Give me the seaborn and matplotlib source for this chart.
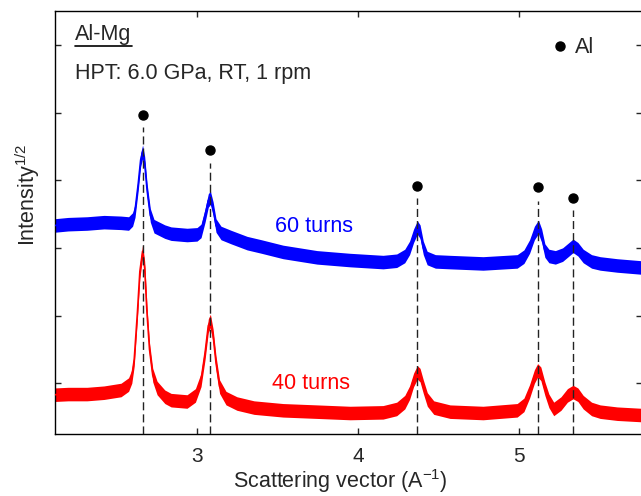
import numpy as np
import pandas as pd
import seaborn as sns
import matplotlib.pyplot as plt

# values (sqrt intensity, arbitrary units)
q_60 = [2.112, 2.20, 2.317, 2.422, 2.528, 2.575, 2.600, 2.615, 2.635, 2.650,
        2.662, 2.675, 2.690, 2.710, 2.733, 2.80, 2.839, 2.938, 3.000, 3.025,
        3.050, 3.070, 3.083, 3.100, 3.118, 3.149, 3.211, 3.311, 3.400, 3.534,
        3.745, 3.950, 4.155, 4.240, 4.290, 4.320, 4.345, 4.368, 4.385, 4.405,
        4.429, 4.480, 4.571, 4.776, 4.988, 5.030, 5.065, 5.095, 5.120, 5.140,
        5.160, 5.185, 5.225, 5.270, 5.305, 5.335, 5.365, 5.398, 5.450, 5.503,
        5.609, 5.760]
i_60 = [2.33, 2.35, 2.36, 2.38, 2.37, 2.36, 2.42, 2.55, 2.95, 3.30,
        3.42, 3.25, 2.85, 2.48, 2.32, 2.24, 2.21, 2.19, 2.20, 2.25,
        2.48, 2.70, 2.74, 2.58, 2.33, 2.22, 2.16, 2.07, 2.02, 1.94,
        1.86, 1.82, 1.79, 1.81, 1.88, 2.00, 2.18, 2.30, 2.24, 2.00,
        1.85, 1.80, 1.79, 1.77, 1.80, 1.87, 2.02, 2.22, 2.31, 2.18,
        1.96, 1.88, 1.86, 1.90, 1.97, 2.03, 1.98, 1.88, 1.80, 1.77,
        1.74, 1.71]

q_40 = [2.112, 2.20, 2.317, 2.422, 2.528, 2.575, 2.595, 2.610, 2.630, 2.645,
        2.662, 2.675, 2.689, 2.705, 2.725, 2.752, 2.80, 2.839, 2.938, 2.990,
        3.025, 3.050, 3.070, 3.083, 3.100, 3.118, 3.140, 3.180, 3.248, 3.354,
        3.534, 3.745, 3.950, 4.155, 4.240, 4.290, 4.320, 4.345, 4.368, 4.385,
        4.405, 4.430, 4.470, 4.571, 4.776, 4.988, 5.030, 5.065, 5.095, 5.115,
        5.135, 5.160, 5.185, 5.215, 5.260, 5.300, 5.335, 5.365, 5.398, 5.450,
        5.503, 5.609, 5.760]
i_40 = [-0.17, -0.16, -0.16, -0.14, -0.10, -0.02, 0.10, 0.35, 1.05, 1.65,
        1.95, 1.70, 1.05, 0.50, 0.12, -0.07, -0.20, -0.25, -0.27, -0.18,
        0.05, 0.45, 0.85, 0.92, 0.70, 0.30, -0.05, -0.22, -0.30, -0.36,
        -0.40, -0.42, -0.44, -0.43, -0.38, -0.28, -0.14, 0.05, 0.16, 0.12,
        -0.05, -0.24, -0.36, -0.42, -0.44, -0.40, -0.32, -0.12, 0.10, 0.19,
        0.14, -0.08, -0.26, -0.38, -0.30, -0.18, -0.13, -0.17, -0.28, -0.38,
        -0.42, -0.45, -0.47]

# Al reflections
al_q = [2.667, 3.083, 4.368, 5.120, 5.334]
al_dot = [3.96, 3.44, 2.91, 2.90, 2.74]
al_top = [3.78, 3.25, 2.73, 2.69, 2.56]

noise_band = 0.10

sns.set_style("ticks")
plt.rcParams['font.family'] = ['Liberation Sans', 'DejaVu Sans']
plt.rcParams['mathtext.default'] = 'regular'

fig = plt.figure(figsize=(6.41, 4.96), dpi=100)
ax = fig.add_axes([54.5 / 641, 62 / 496, 587 / 641, 423 / 496])

for q, i, col in [(q_60, i_60, '#0000ff'), (q_40, i_40, '#ff0000')]:
    df = pd.DataFrame({'q': q, 'I': i})
    ax.fill_between(df['q'], df['I'] - noise_band, df['I'] + noise_band,
                    color=col, lw=0, zorder=2)
    sns.lineplot(data=df, x='q', y='I', color=col, linewidth=1.2, ax=ax, zorder=3)

ax.vlines(al_q, -0.75, al_top, colors='#222222', linestyles=(0, (5.8, 2.9)),
          linewidth=1.0, zorder=4)
ax.plot(al_q, al_dot, 'o', color='black', markersize=6.5, zorder=5)

# legend
ax.plot([5.255], [4.99], 'o', color='black', markersize=6.5)
ax.text(5.348, 4.88, 'Al', fontsize=15.5, va='baseline', ha='left')

ax.text(0.035, 0.931, 'Al-Mg', transform=ax.transAxes, fontsize=15.5,
        va='baseline', ha='left')
ax.plot([0.035, 0.1315], [0.918, 0.918], color='black', lw=1.2,
        transform=ax.transAxes, clip_on=False)
ax.text(0.035, 0.839, 'HPT: 6.0 GPa, RT, 1 rpm', transform=ax.transAxes,
        fontsize=15.5, va='baseline', ha='left')

ax.text(3.484, 2.32, '60 turns', color='#0000ff', fontsize=15.5, va='center')
ax.text(3.466, 0.0, '40 turns', color='#ff0000', fontsize=15.5, va='center')

ax.set_xlim(2.115, 5.76)
ax.set_ylim(-0.75, 5.5)
ax.set_xticks([3, 4, 5])
ax.set_yticks([0, 1, 2, 3, 4, 5])
ax.set_yticklabels([])
ax.tick_params(direction='in', length=4.5, width=1, top=True, right=True,
               labelsize=15, pad=9.5)
for s in ax.spines.values():
    s.set_linewidth(1.0)
    s.set_color('black')

ax.set_xlabel('')
ax.set_ylabel('')
fig.text(340 / 641, 1 - 488 / 496, 'Scattering vector (A$^{-1}$)',
         fontsize=15.5, ha='center', va='baseline')
fig.text(35 / 641, 1 - 195 / 496, 'Intensity$^{1/2}$', fontsize=15.5,
         rotation=90, rotation_mode='anchor', ha='center', va='baseline')

fig.savefig('out.png', dpi=100)
